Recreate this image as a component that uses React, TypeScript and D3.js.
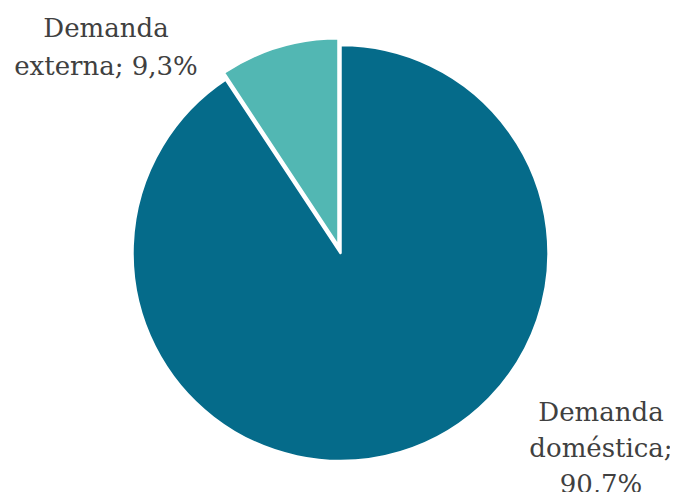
import React from "react";
import * as d3 from "d3";

const categories = ["Demanda externa", "Demanda doméstica"];
const values = [9.3, 90.7];
const labelLines = [
  ["Demanda", "externa; 9,3%"],
  ["Demanda", "doméstica;", "90,7%"],
];
const colors = ["#52B7B3", "#056B8A"];

export default function App() {
  const width = 678;
  const height = 500;
  const cx = 340.5;
  const cy = 253;
  const r = 208;
  const data = categories.map((c, i) => ({ c, v: values[i], i }));
  const pie = d3
    .pie<any>()
    .value((d) => d.v)
    .sort(null)
    .startAngle(-2 * Math.PI * (values[0] / 100))
    .endAngle(2 * Math.PI - 2 * Math.PI * (values[0] / 100));
  const arcs = pie(data);
  const arc = d3.arc<any>().innerRadius(0).outerRadius(r);
  const explode = [7, 0];
  const labelPos = [
    [106, 37],
    [601, 421],
  ];
  const lineGap = [38, 36];
  return (
    <div style={{ margin: -8 }}>
      <svg width={width} height={height} style={{ display: "block" }}>
        <rect width={width} height={height} fill="#fff" />
        <g transform={`translate(${cx},${cy})`}>
          {arcs.map((a, i) => {
            const mid = (a.startAngle + a.endAngle) / 2;
            const dx = Math.sin(mid) * explode[i];
            const dy = -Math.cos(mid) * explode[i];
            return (
              <path
                key={i}
                d={arc(a) as string}
                transform={`translate(${dx},${dy})`}
                fill={colors[i]}
                stroke="#fff"
                strokeWidth={2.5}
                strokeLinejoin="round"
              />
            );
          })}
        </g>
        {labelLines.map((lines, i) => (
          <text
            key={i}
            x={labelPos[i][0]}
            y={labelPos[i][1]}
            textAnchor="middle"
            fontFamily="'DejaVu Serif', 'Liberation Serif', serif"
            fontSize={26}
            fill="#404040"
          >
            {lines.map((l, j) => (
              <tspan key={j} x={labelPos[i][0]} dy={j === 0 ? 0 : lineGap[i]}>
                {l}
              </tspan>
            ))}
          </text>
        ))}
      </svg>
    </div>
  );
}
